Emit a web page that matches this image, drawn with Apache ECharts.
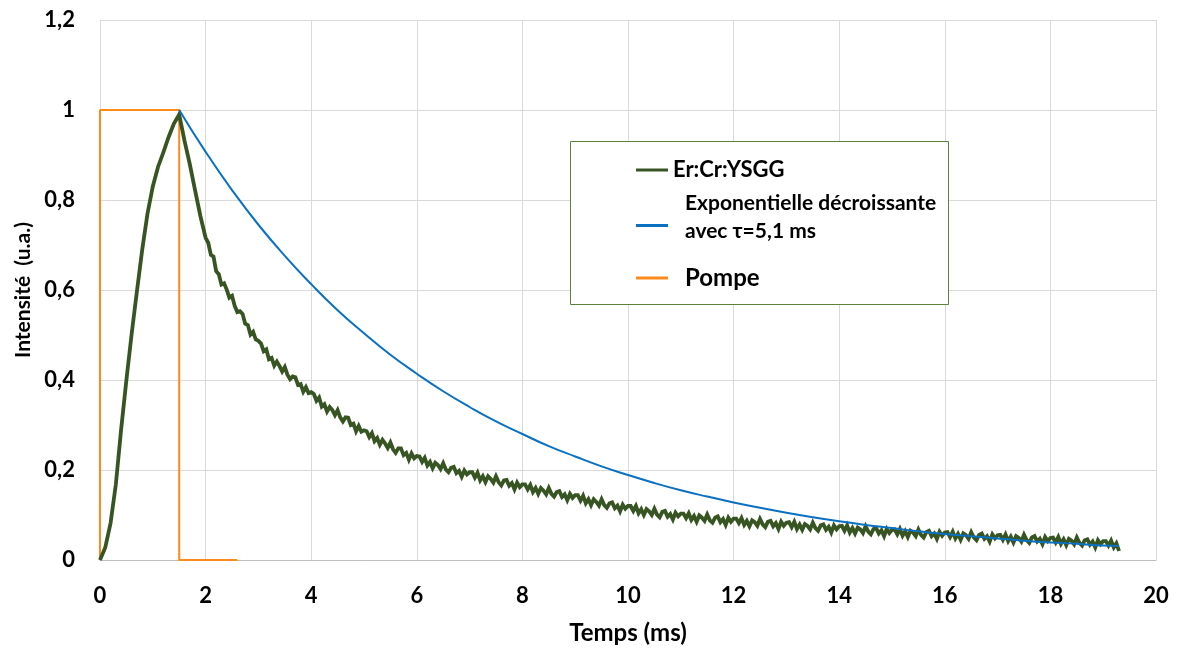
<!DOCTYPE html>
<html>
<head>
<meta charset="utf-8">
<script src="https://cdn.jsdelivr.net/npm/echarts@6/dist/echarts.min.js"></script>
<style>
html,body{margin:0;padding:0;background:#fff;}
#chart{width:1186px;height:650px;}
</style>
</head>
<body>
<div id="chart"></div>
<script>
// ---- Data ----
const yTickLabels = {'0':'0','0.2':'0,2','0.4':'0,4','0.6':'0,6','0.8':'0,8','1':'1','1.2':'1,2'};

// Er:Cr:YSGG measured fluorescence
// part 1: rise and peak, sampled every 0.1 ms from 0 to 2.0 ms
const riseStart = 0, riseStep = 0.1;
const riseY = [0.000,0.028,0.082,0.168,0.290,0.400,0.503,0.598,0.690,0.770,
  0.830,0.874,0.906,0.940,0.970,0.990,0.932,0.880,0.822,0.765,0.716];
// part 2: noisy decay, sampled every 0.05 ms from 2.05 to 19.30 ms
const decayStart = 2.05, decayStep = 0.05;
const decayY = [
  0.705,0.678,0.674,0.642,0.635,0.612,0.615,0.601,0.583,0.587,
  0.565,0.551,0.553,0.547,0.525,0.522,0.501,0.507,0.490,0.487,
  0.481,0.464,0.468,0.446,0.449,0.432,0.441,0.431,0.419,0.429,
  0.412,0.402,0.408,0.406,0.389,0.391,0.374,0.384,0.371,0.373,
  0.369,0.354,0.361,0.341,0.346,0.330,0.340,0.333,0.322,0.333,
  0.317,0.308,0.317,0.316,0.300,0.303,0.286,0.298,0.285,0.288,
  0.286,0.273,0.282,0.264,0.271,0.256,0.267,0.259,0.249,0.261,
  0.246,0.238,0.248,0.248,0.233,0.238,0.223,0.237,0.226,0.231,
  0.230,0.218,0.227,0.210,0.218,0.204,0.216,0.211,0.202,0.215,
  0.201,0.195,0.205,0.207,0.193,0.198,0.185,0.199,0.190,0.195,
  0.195,0.183,0.194,0.177,0.186,0.173,0.186,0.180,0.172,0.186,
  0.173,0.166,0.177,0.178,0.165,0.171,0.157,0.172,0.162,0.168,
  0.168,0.157,0.167,0.151,0.160,0.147,0.160,0.154,0.146,0.160,
  0.147,0.141,0.151,0.153,0.140,0.146,0.133,0.147,0.138,0.144,
  0.144,0.132,0.143,0.126,0.135,0.122,0.135,0.129,0.121,0.135,
  0.122,0.116,0.126,0.128,0.115,0.121,0.108,0.123,0.114,0.120,
  0.120,0.109,0.120,0.104,0.113,0.100,0.113,0.108,0.100,0.114,
  0.101,0.095,0.107,0.109,0.096,0.102,0.090,0.105,0.097,0.103,
  0.103,0.093,0.104,0.089,0.098,0.085,0.099,0.094,0.087,0.101,
  0.088,0.083,0.094,0.097,0.084,0.091,0.078,0.094,0.085,0.092,
  0.092,0.082,0.093,0.078,0.087,0.075,0.088,0.084,0.076,0.091,
  0.079,0.073,0.085,0.087,0.075,0.082,0.069,0.085,0.076,0.083,
  0.084,0.073,0.085,0.069,0.079,0.067,0.080,0.076,0.068,0.083,
  0.071,0.065,0.077,0.079,0.067,0.074,0.061,0.077,0.068,0.075,
  0.076,0.065,0.077,0.061,0.071,0.059,0.072,0.068,0.060,0.075,
  0.063,0.057,0.069,0.071,0.059,0.066,0.053,0.069,0.060,0.067,
  0.068,0.057,0.069,0.054,0.064,0.051,0.065,0.061,0.053,0.068,
  0.056,0.050,0.062,0.065,0.053,0.059,0.047,0.063,0.054,0.061,
  0.062,0.051,0.063,0.048,0.058,0.045,0.059,0.055,0.047,0.062,
  0.050,0.044,0.056,0.059,0.047,0.053,0.041,0.057,0.048,0.055,
  0.056,0.045,0.057,0.042,0.052,0.039,0.053,0.049,0.041,0.056,
  0.044,0.038,0.050,0.053,0.041,0.047,0.035,0.051,0.042,0.049,
  0.050,0.039,0.051,0.036,0.046,0.033,0.047,0.043,0.035,0.050,
  0.038,0.032,0.044,0.046,0.034,0.041,0.028,0.044,0.035,0.042,
  0.042,0.032,0.043,0.028,0.037,0.020
];

// Decreasing exponential (tau = 5,1 ms)
const blueT = [1.5,2.0,2.5,3.0,3.5,4.0,4.5,5.0,5.5,6.0,6.5,7.0,7.5,8.0,8.5,9.0,9.5,10.0,10.5,11.0,11.5,12.0,12.5,13.0,13.5,14.0,14.5,15.0,15.5,16.0,16.5,17.0,17.5,18.0,18.5,19.0,19.3];
const blueY = [1.000,0.907,0.822,0.745,0.676,0.613,0.555,0.504,0.456,0.414,0.375,0.340,0.308,0.280,0.253,0.230,0.208,0.189,0.171,0.155,0.141,0.128,0.116,0.105,0.095,0.086,0.078,0.071,0.064,0.058,0.053,0.048,0.043,0.039,0.036,0.032,0.031];

// Pump pulse
const pumpT = [0, 0, 1.5, 1.5, 2.6];
const pumpY = [0, 1, 1, 0, 0];

const seriesNames = ['Er:Cr:YSGG', 'Exponentielle décroissante\navec τ=5,1 ms', 'Pompe'];

// ---- Build ----
const greenData = riseY.map((v, i) => [+(riseStart + i * riseStep).toFixed(2), v])
  .concat(decayY.map((v, i) => [+(decayStart + i * decayStep).toFixed(2), v]));
const blueData = blueT.map((t, i) => [t, blueY[i]]);
const pumpData = pumpT.map((t, i) => [t, pumpY[i]]);

const FONT = 'Lato, "Open Sans", sans-serif';
const chart = echarts.init(document.getElementById('chart'), null, {renderer: 'canvas'});
chart.setOption({
  animation: false,
  backgroundColor: '#ffffff',
  grid: {left: 100, right: 30, top: 20, bottom: 87, containLabel: false},
  xAxis: {
    type: 'value', min: 0, max: 20, interval: 2,
    name: 'Temps (ms)', nameLocation: 'middle', nameGap: 61,
    nameTextStyle: {fontFamily: FONT, fontWeight: 'bold', fontSize: 24, color: '#000'},
    axisLine: {show: true, lineStyle: {color: '#bfbfbf', width: 1}},
    axisTick: {show: false},
    axisLabel: {margin: 25, fontFamily: FONT, fontWeight: 'bold', fontSize: 22, color: '#000'},
    splitLine: {show: true, lineStyle: {color: '#d9d9d9', width: 1}}
  },
  yAxis: {
    type: 'value', min: 0, max: 1.2, interval: 0.2,
    name: 'Intensité  (u.a.)', nameLocation: 'middle', nameGap: 64, nameRotate: 90,
    nameTextStyle: {fontFamily: FONT, fontWeight: 'bold', fontSize: 21, color: '#000'},
    axisLine: {show: true, lineStyle: {color: '#d9d9d9', width: 1}},
    axisTick: {show: false},
    axisLabel: {margin: 25, fontFamily: FONT, fontWeight: 'bold', fontSize: 22, color: '#000',
      formatter: v => {
        const k = String(+v.toFixed(1));
        return yTickLabels[k] !== undefined ? yTickLabels[k] : String(v).replace('.', ',');
      }},
    splitLine: {show: true, lineStyle: {color: '#d9d9d9', width: 1}}
  },
  graphic: [{
    type: 'rect', z: 1,
    shape: {x: 570.5, y: 141.5, width: 378, height: 163},
    style: {fill: '#ffffff', stroke: '#5f7f3f', lineWidth: 1}
  }],
  legend: {
    orient: 'vertical', left: 636, top: 159, padding: 0, z: 10,
    itemWidth: 32, itemHeight: 3, itemGap: 12, icon: 'rect',
    data: seriesNames,
    formatter: function (name) {
      if (name === seriesNames[0]) return '{a|' + name + '}';
      if (name === seriesNames[1]) return '{b|Exponentielle décroissante}\n{b|avec τ=5,1 ms}\n{e| }';
      return '{c|' + name + '}';
    },
    textStyle: {
      fontFamily: FONT, fontWeight: 'bold', color: '#000',
      rich: {
        a: {fontFamily: FONT, fontWeight: 'bold', fontSize: 22, color: '#000', lineHeight: 26},
        b: {fontFamily: FONT, fontWeight: 'bold', fontSize: 21, color: '#000', lineHeight: 28, padding: [0, 0, 0, 12]},
        e: {fontSize: 1, lineHeight: 16},
        c: {fontFamily: FONT, fontWeight: 'bold', fontSize: 24, color: '#000', lineHeight: 28, padding: [0, 0, 0, 12]}
      }
    }
  },
  series: [
    {
      name: seriesNames[0], type: 'line', data: greenData,
      symbol: 'none', lineStyle: {color: '#375522', width: 3.8, join: 'miter', cap: 'butt'},
      itemStyle: {color: '#375522'}, z: 3
    },
    {
      name: seriesNames[1], type: 'line', data: blueData, smooth: true,
      symbol: 'none', lineStyle: {color: '#0a70c2', width: 2}, itemStyle: {color: '#0a70c2'}, z: 4
    },
    {
      name: seriesNames[2], type: 'line', data: pumpData,
      symbol: 'none', lineStyle: {color: '#ff8a1c', width: 2}, itemStyle: {color: '#ff8a1c'}, z: 2
    }
  ]
});
</script>
</body>
</html>
